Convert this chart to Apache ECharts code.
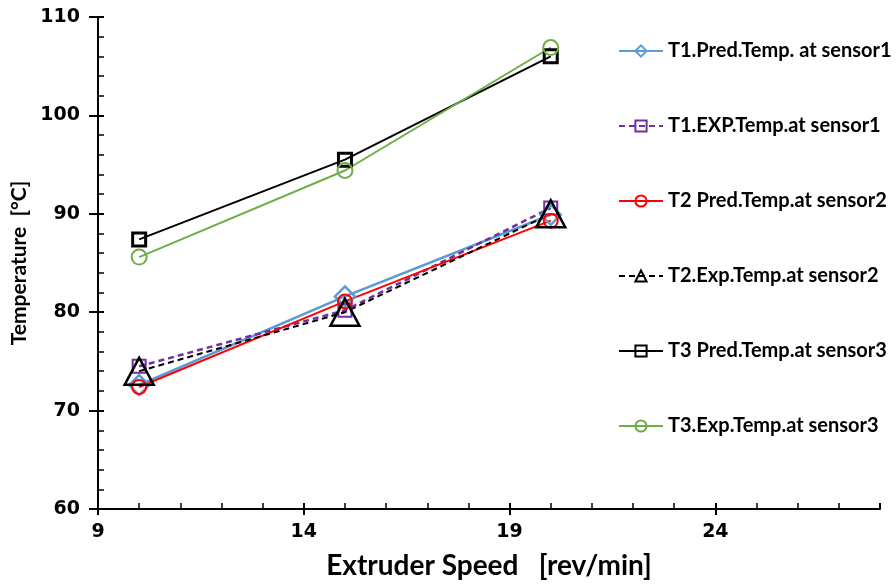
<!DOCTYPE html>
<html>
<head>
<meta charset="utf-8">
<script src="https://cdn.jsdelivr.net/npm/echarts@6/dist/echarts.min.js"></script>
<style>
  html, body { margin: 0; padding: 0; background: #fff; }
  #chart { width: 896px; height: 586px; }
</style>
</head>
<body>
<div id="chart"></div>
<script>
// Extruder speed (rev/min) and temperatures (°C) at the three sensors
const speeds = [10, 15, 20];
const t1Pred = [72.6, 81.6, 89.9];
const t1Exp  = [74.5, 80.2, 90.6];
const t2Pred = [72.4, 81.1, 89.3];
const t2Exp  = [74.0, 80.0, 90.0];
const t3Pred = [87.4, 95.5, 106.0];
const t3Exp  = [85.6, 94.4, 106.9];

const seriesNames = [
  'T1.Pred.Temp. at sensor1',
  'T1.EXP.Temp.at sensor1',
  'T2 Pred.Temp.at sensor2',
  'T2.Exp.Temp.at sensor2',
  'T3 Pred.Temp.at sensor3',
  'T3.Exp.Temp.at sensor3'
];

const xTicks = { min: 9, max: 28, step: 5 };
const yTicks = { min: 60, max: 110, step: 10 };

const pairs = (ys) => speeds.map((x, i) => [x, ys[i]]);

function lineSeries(name, ys, color, symbol, size, dashed, lw, bw) {
  return {
    name: name,
    type: 'line',
    data: pairs(ys),
    symbol: symbol,
    symbolSize: size,
    showSymbol: true,
    color: color,
    lineStyle: { color: color, width: lw, type: dashed ? [6, 4] : 'solid' },
    itemStyle: { color: 'rgba(255,255,255,0)', borderColor: color, borderWidth: bw },
    emphasis: { disabled: true },
    z: 3
  };
}

const titleFont = 'Lato';
const tickFont = 'DejaVu Sans';

const chart = echarts.init(document.getElementById('chart'), null, { renderer: 'canvas' });

const axisLine = { show: true, lineStyle: { color: '#000', width: 2 } };

chart.setOption({
  animation: false,
  backgroundColor: '#fff',
  grid: { left: 98, right: 16, top: 17, bottom: 77, containLabel: false },
  legend: {
    orient: 'vertical',
    left: 613,
    top: 36,
    itemGap: 55,
    itemWidth: 44,
    itemHeight: 14,
    data: seriesNames,
    textStyle: { fontFamily: titleFont, fontWeight: 'bold', fontSize: 20, color: '#000' }
  },
  xAxis: [{
    type: 'value',
    min: xTicks.min, max: xTicks.max, interval: xTicks.step,
    name: 'Extruder Speed   [rev/min]',
    nameLocation: 'middle',
    nameGap: 43,
    nameTextStyle: { fontFamily: titleFont, fontWeight: 'bold', fontSize: 28, color: '#000' },
    axisLine: axisLine,
    axisTick: { show: true, inside: false, length: 6, lineStyle: { color: '#000', width: 2 } },
    minorTick: { show: false },
    axisLabel: { color: '#000', fontFamily: tickFont, fontWeight: 'bold', fontSize: 19, margin: 14, showMaxLabel: false },
    splitLine: { show: false }
  }, {
    type: 'value',
    position: 'bottom',
    min: xTicks.min, max: xTicks.max, interval: xTicks.step,
    axisLine: { show: false },
    axisTick: { show: true, inside: true, length: 6, lineStyle: { color: '#000', width: 2 } },
    minorTick: { show: true, splitNumber: 5, length: 6, lineStyle: { color: '#000', width: 1.5 } },
    axisLabel: { show: false },
    splitLine: { show: false }
  }],
  yAxis: [{
    type: 'value',
    min: yTicks.min, max: yTicks.max, interval: yTicks.step,
    name: 'Temperature  [°C]',
    nameLocation: 'middle',
    nameGap: 65,
    nameTextStyle: { fontFamily: titleFont, fontWeight: 'bold', fontSize: 21, color: '#000' },
    axisLine: axisLine,
    axisTick: { show: true, inside: false, length: 9, lineStyle: { color: '#000', width: 2 } },
    minorTick: { show: false },
    axisLabel: { color: '#000', fontFamily: tickFont, fontWeight: 'bold', fontSize: 19, margin: 18 },
    splitLine: { show: false }
  }, {
    type: 'value',
    position: 'left',
    min: yTicks.min, max: yTicks.max, interval: yTicks.step,
    axisLine: { show: false },
    axisTick: { show: true, inside: true, length: 6, lineStyle: { color: '#000', width: 2 } },
    minorTick: { show: true, splitNumber: 5, length: 6, lineStyle: { color: '#000', width: 1.5 } },
    axisLabel: { show: false },
    splitLine: { show: false }
  }],
  series: [
    lineSeries(seriesNames[0], t1Pred, '#5B9BD5', 'diamond', 20, false, 2.5, 2.5),
    lineSeries(seriesNames[1], t1Exp, '#7030A0', 'rect', 13, true, 2.5, 2),
    lineSeries(seriesNames[2], t2Pred, '#FF0000', 'circle', 14, false, 2, 2),
    lineSeries(seriesNames[3], t2Exp, '#000000', 'triangle', [29, 27], true, 2, 2.5),
    lineSeries(seriesNames[4], t3Pred, '#000000', 'rect', 13, false, 2, 3),
    lineSeries(seriesNames[5], t3Exp, '#70AD47', 'circle', 15, false, 2, 2)
  ]
});
</script>
</body>
</html>
